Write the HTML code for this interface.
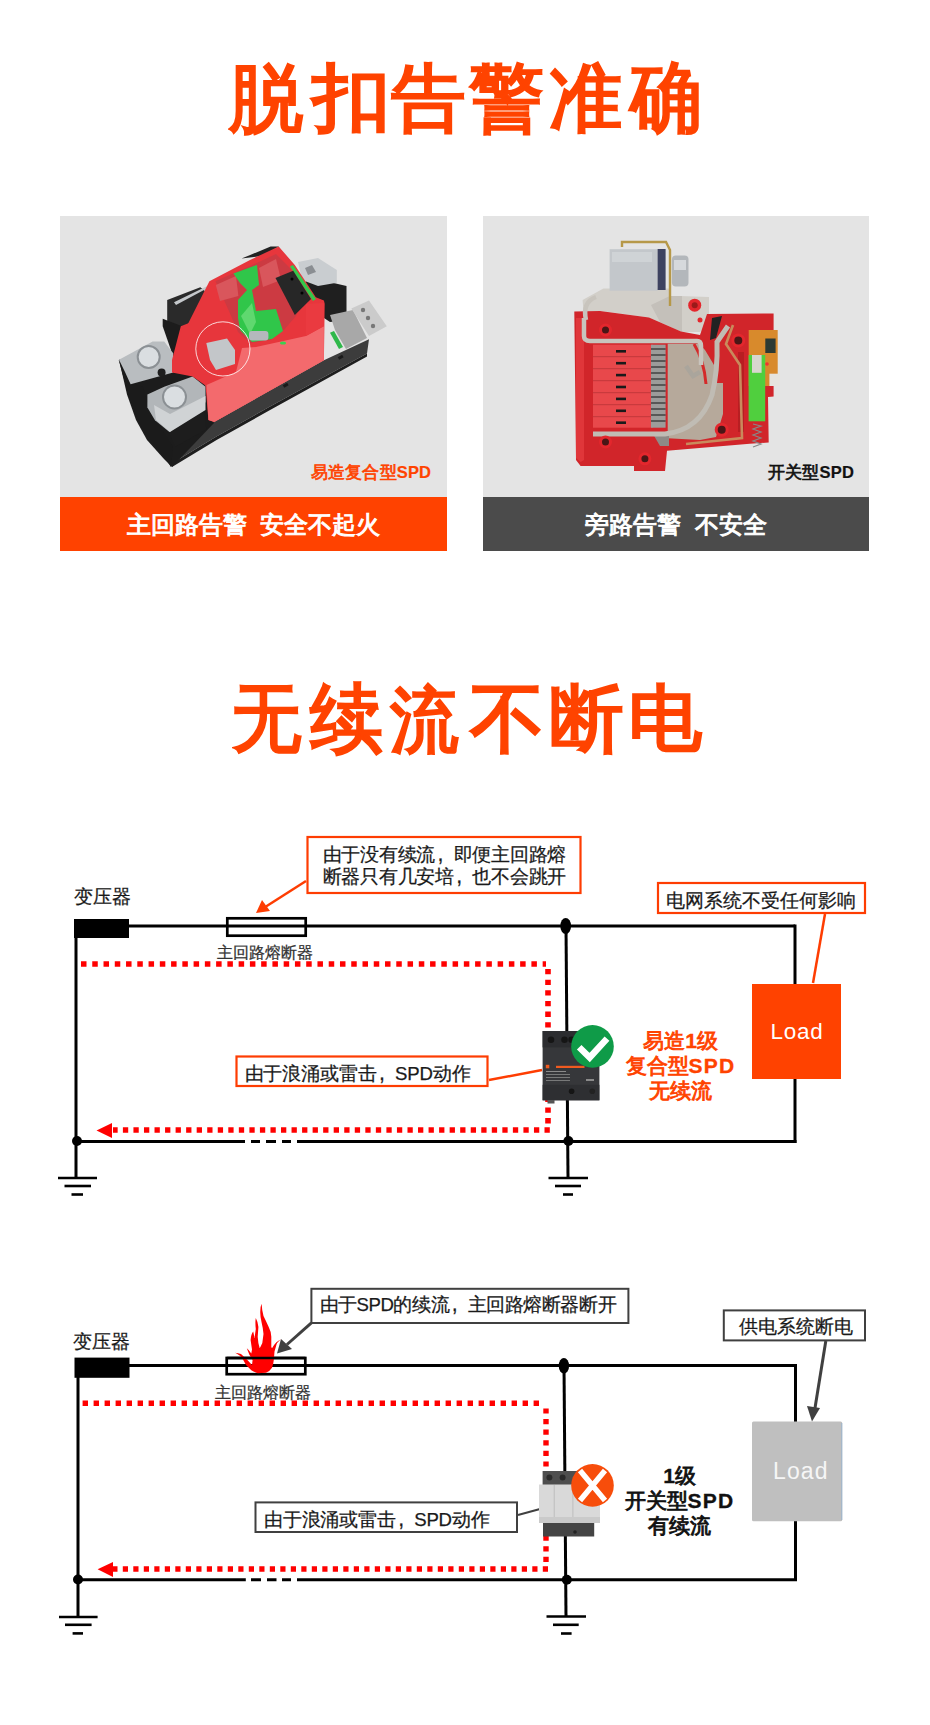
<!DOCTYPE html>
<html><head><meta charset="utf-8">
<style>
*{margin:0;padding:0;box-sizing:border-box}
html,body{width:930px;height:1725px;background:#fff;overflow:hidden}
body{position:relative;font-family:"Liberation Sans",sans-serif}
.a{position:absolute;white-space:nowrap;line-height:1}
.title{font-size:76px;font-weight:normal;color:#ff4300;-webkit-text-stroke:2.8px #ff4300;transform-origin:0 0}
.panel{position:absolute;background:#e4e4e4;overflow:hidden}
.bar{position:absolute;left:0;right:0;bottom:0;height:54px;color:#fff;font-weight:normal;font-size:24px;text-align:center;line-height:56px;-webkit-text-stroke:1px #fff}
.t{font-size:19px;color:#1a1a1a;-webkit-text-stroke:0.25px currentColor}
.cm{display:inline-block;width:0.87em;text-align:left;padding-left:0.12em;font-size:1.15em;line-height:0.8;vertical-align:baseline}
.tb{font-weight:normal;font-size:21px;text-align:center;line-height:25px;-webkit-text-stroke:0.9px currentColor}
.tb b{font-weight:bold;-webkit-text-stroke:0.3px currentColor}
svg{position:absolute;left:0;top:0}
</style></head><body>

<div id="t1"><div class="a title" style="left:228.98px;top:62.0px;transform:scale(0.9779,0.9737)">脱</div><div class="a title" style="left:312.06px;top:61.03px;transform:scale(1.0278,0.9693)">扣</div><div class="a title" style="left:390.7px;top:62.94px;transform:scale(0.9811,0.9442)">告</div><div class="a title" style="left:468.99px;top:59.74px;transform:scale(0.9867,1.0101)">警</div><div class="a title" style="left:549.04px;top:61.72px;transform:scale(0.9595,0.9673)">准</div><div class="a title" style="left:629.89px;top:58.72px;transform:scale(0.9467,1.013)">确</div></div>

<div class="panel" style="left:60px;top:216px;width:387px;height:335px">
  <div class="bar" style="background:#ff4200">主回路告警&nbsp;&nbsp;安全不起火</div>
</div>
<div class="panel" style="left:483px;top:216px;width:386px;height:335px">
  <div class="bar" style="background:#4b4b4b">旁路告警&nbsp;&nbsp;不安全</div>
</div>


<svg width="930" height="600" viewBox="0 0 930 600" id="photos">
<!-- ===== Photo 1 ===== -->
<!-- back blocks -->
<polygon points="241.6,258.6 270.6,246.5 279,246.5 262,256" fill="#222"/>
<polygon points="167.2,300 200.3,287.2 216,299 220,302 185,326 167.2,326" fill="#2a2a2a"/>
<polygon points="174,302.2 207.8,285.7 215.4,299 211,300 204,290 176,305" fill="#c4c8cb"/>
<polygon points="162.7,318.8 182.3,326.3 185.3,356.4 173.2,356.4 162.7,326.3" fill="#1c1c1c"/>
<polygon points="304.5,276.3 346.5,286 346.5,320 330,322 312,310" fill="#1f1f1f"/>
<polygon points="298,262 318,258 336.8,270 336.8,282.8 318,286 302,280" fill="#c9cdd0"/>
<polygon points="305,268 312,265 316,272 308,275" fill="#8a8e92"/>
<!-- base -->
<polygon points="168.5,446.7 214,422 323.9,360.2 369,339.2 367,353.5 270,406.6 216,436.7 171,464" fill="#3c3c3c"/>
<polygon points="171,464 216,436.7 270,406.6 367,353.5 367,356.5 271,409.6 217,439.7 172,467" fill="#1e1e1e"/>
<rect x="283" y="384" width="5" height="3" fill="#1a1a1a" transform="rotate(-30 285 385)"/>
<rect x="338" y="356" width="5" height="3" fill="#1a1a1a" transform="rotate(-30 340 357)"/>
<!-- left terminal block -->
<polygon points="119,359.7 173,350 205.5,385 214,423 172,467 164,459 147,440 136,420 127,394.5" fill="#1c1c1c"/>
<polygon points="118.6,359.8 129,396.8 141,426 166.8,460.4 171,467.3 173,447 161.6,429.5 149.6,408.8 142.7,386.5 132.4,383.9 125,372" fill="#1b1b1b"/>
<polygon points="166.8,429.5 204.6,412.3 206.3,429.5 175.4,446.7" fill="#1d1d1d"/>
<polygon points="119,359.7 152.6,341.6 164.2,341.6 173.2,353.2 173.2,372.6 130.6,384.2 125,372" fill="#b9bdc0"/>
<polygon points="147.4,394.5 164.2,386.8 192.6,376.5 205.5,386.8 205.5,402.3 169.4,432 155,420.3 147.4,407.4" fill="#b2b6b9"/>
<polygon points="154,405 170,414 205.5,396 205.5,410 170,432 156,420" fill="#d0d3d5"/>
<circle cx="148.7" cy="357" r="11" fill="#dadee1" stroke="#8b9094" stroke-width="2"/>
<circle cx="174.5" cy="397" r="11.5" fill="#dadee1" stroke="#8b9094" stroke-width="2"/>
<circle cx="161.6" cy="372.6" r="4" fill="#1e1e1e"/>
<!-- red body -->
<polygon points="188.3,323.3 209.4,281.2 250,260 278.7,246.5 294.8,265 315.8,297.3 323.9,300.5 324.7,303.7 323.9,360.2 214.2,422 208.4,420 205.5,385.5 192.6,376.5 172,372.6 172,360 180.8,326.3" fill="#e7363c"/>
<polygon points="206.5,385 236,372 242,348 256,347 306,336 323.9,326.3 323.9,360.2 214.2,422 208.4,420" fill="#f36a6d"/>
<polygon points="215.4,281.2 250,266 276,254 290,268 306,296 296,316 283,331 270,340 250,343 238,332 232,318 224,300" fill="#cc3a42"/>
<polygon points="215.8,285 236,276 238.4,296 220,301" fill="#d9565c"/>
<polygon points="259,268 276,259 281,280 263,287" fill="#d9565c"/>
<polygon points="306,303.7 324,303 324,326 306,336" fill="#ea3a40"/>
<!-- green -->
<polygon points="233.4,273.6 257,265 259,285 252,290 256,311 276,309 283,331 272,339 252,342 240,330 238,318 238,300 247,290 240,283" fill="#30c64a"/>
<polygon points="241,316 252,303 256,322 250,334" fill="#5fd86f"/>
<polygon points="290,266.6 293,265 316,299 313,301" fill="#33c84c"/>
<polygon points="330,332.8 334,331 343,347 339,349" fill="#2fb84a"/>
<rect x="249" y="331" width="19.4" height="9.6" rx="3" fill="#b4b8bc"/>
<ellipse cx="283" cy="343" rx="3" ry="1.6" fill="#3ad050"/>
<!-- microswitch -->
<polygon points="275.5,278 293.2,270.7 311,299 294.8,315" fill="#272727"/>
<circle cx="292" cy="279" r="1.5" fill="#000"/><circle cx="302" cy="293" r="1.5" fill="#000"/>
<!-- circle & silver -->
<polygon points="206.3,343 227,338.4 235,350 235,364 216,370 210,360" fill="#c3c6c9"/>
<circle cx="222.9" cy="348.9" r="27.1" fill="none" stroke="#fff" stroke-opacity="0.8" stroke-width="1"/>
<!-- right plates -->
<polygon points="330,315 353,310 367,338 346,349 335,330" fill="#a8a8a8"/>
<polygon points="351.3,308.6 369,300.5 386.8,326.3 369,336 360,322" fill="#cbcbcb"/>
<circle cx="363" cy="310" r="2.2" fill="#777"/><circle cx="368" cy="318" r="2.2" fill="#777"/><circle cx="373" cy="326" r="2.2" fill="#777"/>
<!-- ===== Photo 2 ===== -->
<!-- metal bracket & solenoid -->
<polygon points="582.6,300 603.4,288.6 669.8,288.6 669.8,296 680,296 709,297 709,324 700,332 682,332 649,317.5 601,311 597,326 585,330" fill="#d2cfc9"/>
<polygon points="651,305 669.8,296 682,296 682,332 660,322" fill="#c4c0ba"/>
<rect x="609.6" y="249.2" width="48" height="41.5" fill="#c3c7cb"/>
<rect x="612" y="252" width="40" height="10" fill="#cfd3d6"/>
<rect x="657.6" y="249" width="8" height="41" fill="#3d4260"/>
<path d="M622 247V242H666L670 250V306" stroke="#b69848" stroke-width="2.4" fill="none"/>
<rect x="671.9" y="255.4" width="16.6" height="31.2" rx="4" fill="#b3b7bb"/>
<rect x="674" y="260" width="12" height="10" fill="#d6d9dc"/>
<circle cx="694.7" cy="305.2" r="6.5" fill="#e4262c"/><circle cx="694.7" cy="305.2" r="3" fill="#9a1a1a"/>
<circle cx="700" cy="320" r="2.5" fill="#e4262c"/>
<!-- red body -->
<polygon points="574.3,311.5 600,311 649,317.5 681,331.5 700,335 707,314 773.6,313.5 773.6,396.5 768,397 768.7,442.5 749.8,443.7 667,450.8 665,471 634,471 634,466 580.6,466 576,460" fill="#d1252a"/>
<polygon points="576,318 584,318 584,460 580.6,462 576,458" fill="#e0363a"/>
<!-- tan area -->
<polygon points="667.7,343.7 699,343.7 705,350 714,365 716,383 723,383 723,414 716,437 700,440 667.7,438.3" fill="#b6a99b"/>
<polygon points="653,434 669,432 669,446 660,446" fill="#8e8a86"/>
<!-- right inner red details -->
<path d="M694 344Q704 360 706 384" stroke="#d42a2a" stroke-width="3" fill="none"/>
<rect x="738" y="352" width="6" height="80" fill="#b81e22"/>
<polygon points="712,318 722,316 716,338 710,340" fill="#222"/>
<!-- comb -->
<rect x="593" y="344.7" width="60" height="83" fill="#e8484b"/>
<g fill="#c93a3d"><rect x="593" y="356" width="60" height="1.2"/><rect x="593" y="368" width="60" height="1.2"/><rect x="593" y="380" width="60" height="1.2"/><rect x="593" y="392" width="60" height="1.2"/><rect x="593" y="404" width="60" height="1.2"/><rect x="593" y="416" width="60" height="1.2"/></g>
<g fill="#1a1a1a">
<rect x="616" y="350" width="10" height="2.6"/><rect x="616" y="361.9" width="10" height="2.6"/><rect x="616" y="373.8" width="10" height="2.6"/><rect x="616" y="385.7" width="10" height="2.6"/><rect x="616" y="397.6" width="10" height="2.6"/><rect x="616" y="409.5" width="10" height="2.6"/><rect x="616" y="421.4" width="10" height="2.6"/>
</g>
<rect x="651" y="344.7" width="14.6" height="83" fill="#9c9c9a"/>
<g stroke="#333" stroke-width="1.3">
<line x1="651" y1="349" x2="665.6" y2="349"/><line x1="651" y1="355" x2="665.6" y2="355"/><line x1="651" y1="361" x2="665.6" y2="361"/><line x1="651" y1="367" x2="665.6" y2="367"/><line x1="651" y1="373" x2="665.6" y2="373"/><line x1="651" y1="379" x2="665.6" y2="379"/><line x1="651" y1="385" x2="665.6" y2="385"/><line x1="651" y1="391" x2="665.6" y2="391"/><line x1="651" y1="397" x2="665.6" y2="397"/><line x1="651" y1="403" x2="665.6" y2="403"/><line x1="651" y1="409" x2="665.6" y2="409"/><line x1="651" y1="415" x2="665.6" y2="415"/><line x1="651" y1="421" x2="665.6" y2="421"/>
</g>
<!-- silver bars -->
<path d="M586 320Q582 302 596 297M584 318V336Q584 341 590 341H697Q701 341 701 346V365" stroke="#c8c4bd" stroke-width="4.5" fill="none"/>
<path d="M593 434H665Q700 430 712 395Q718 370 717 342L728 326" stroke="#c0bcb4" stroke-width="5" fill="none"/>
<path d="M686 366L693 376L700 372" stroke="#aaa59c" stroke-width="4.5" fill="none"/>
<path d="M733 325L726 344L740 365L742 438L686 444" stroke="#c98a5c" stroke-width="2.6" fill="none"/>

<!-- right components -->
<rect x="748.7" y="330" width="29" height="56" fill="#d88a2c"/>
<rect x="765.3" y="338.5" width="10.3" height="14.5" fill="#2d3a33"/>
<rect x="769.4" y="373.7" width="10.4" height="12.3" fill="#e6e4de"/>
<rect x="748.6" y="355" width="16.6" height="66.3" fill="#50cf3e"/>
<rect x="752" y="355" width="9.6" height="17.8" fill="#d8d6ce"/>
<circle cx="767" cy="364" r="1.8" fill="#e33"/>
<path d="M753 424l8 2l-8 3l8 3l-8 3l8 3l-8 3l8 3l-8 3" stroke="#888" stroke-width="1.2" fill="none"/>
<!-- holes -->
<g fill="#4a1616" stroke="#e3272d" stroke-width="3">
<circle cx="605.5" cy="330" r="5"/><circle cx="605.5" cy="442" r="5"/><circle cx="644.9" cy="458.8" r="5"/><circle cx="738.3" cy="340.5" r="5.5"/><circle cx="721.7" cy="429.8" r="5.5"/>
</g>
</svg>
<div class="a" id="p1t" style="left:311px;top:464px;letter-spacing:0.15px;font-size:16.5px;font-weight:normal;-webkit-text-stroke:0.7px #ff4300;color:#ff4300">易造复合型<b style="-webkit-text-stroke:0.2px #ff4300">SPD</b></div>
<div class="a" id="p2t" style="left:768px;top:464px;letter-spacing:0.2px;font-size:16.5px;font-weight:normal;-webkit-text-stroke:0.7px #111;color:#111">开关型<b style="-webkit-text-stroke:0.2px #111">SPD</b></div>

<div id="t2"><div class="a title" style="left:231.66px;top:681.48px;transform:scale(0.9071,0.98)">无</div><div class="a title" style="left:309.66px;top:681.4px;transform:scale(0.9597,1.004)">续</div><div class="a title" style="left:390.31px;top:684.1px;transform:scale(0.9065,0.9494)">流</div><div class="a title" style="left:470.38px;top:681.41px;transform:scale(0.9753,0.9986)">不</div><div class="a title" style="left:549.45px;top:682.8px;transform:scale(0.9753,0.9539)">断</div><div class="a title" style="left:628.11px;top:682.8px;transform:scale(0.9722,0.9432)">电</div></div>

<svg width="930" height="1725" viewBox="0 0 930 1725">
<!-- ===== Diagram 1 ===== -->
<g stroke="#000" stroke-width="3" fill="none">
  <line x1="129" y1="926" x2="795" y2="926"/>
  <line x1="76" y1="919" x2="76" y2="1177"/>
  <line x1="795" y1="924.5" x2="795" y2="1143"/>
  <line x1="566" y1="926" x2="568" y2="1177"/>
  <path d="M76 1141.5H245M251 1141.5H260M266 1141.5H276M282 1141.5H291M297 1141.5H796.5"/>
  <rect x="227.3" y="918.3" width="78.4" height="17.4" stroke-width="2.7"/>
  <g stroke-width="2.6">
    <line x1="58" y1="1178" x2="97" y2="1178"/><line x1="64.5" y1="1186" x2="91" y2="1186"/><line x1="71.5" y1="1194.5" x2="83" y2="1194.5"/>
    <line x1="548.5" y1="1178" x2="588" y2="1178"/><line x1="555" y1="1186" x2="581" y2="1186"/><line x1="563" y1="1194.5" x2="573" y2="1194.5"/>
  </g>
</g>
<rect x="74" y="919" width="55" height="19" fill="#000"/>
<circle cx="77" cy="1141" r="5" fill="#000"/>
<circle cx="568.4" cy="1141" r="5" fill="#000"/>
<ellipse cx="565.7" cy="926" rx="5.4" ry="8" fill="#000"/>
<rect x="752" y="984" width="89" height="95" fill="#ff4200"/>
<!-- red dotted path -->
<g stroke="#f00" fill="none" stroke-width="5.6">
  <path d="M81 964H546" stroke-dasharray="5.5 5.76"/>
  <path d="M548 969V1127" stroke-dasharray="5.3 5.35"/>
  <path d="M549.8 1130H113" stroke-dasharray="5.3 5.24"/>
</g>
<path d="M96.5 1130.5L112 1123V1138Z" fill="#f00"/>
<!-- callouts -->
<g stroke="#fe3d02" stroke-width="2.2" fill="#fff">
  <rect x="307.5" y="837" width="273" height="56"/>
  <rect x="658" y="883" width="207" height="30"/>
  <rect x="236.5" y="1056.5" width="251" height="29.5"/>
</g>
<g stroke="#fe3d02" stroke-width="2.5" fill="none">
  <line x1="306" y1="881" x2="266" y2="906.5"/>
  <line x1="825" y1="914" x2="813" y2="983"/>
  <line x1="489" y1="1080" x2="542" y2="1070"/>
</g>
<path d="M256 913L262 900L270 911Z" fill="#fe3d02"/>
<!-- SPD 1 -->
<rect x="542.6" y="1031" width="56.8" height="69.3" fill="#36373a"/>
<rect x="542.6" y="1031" width="56.8" height="16.4" fill="#2c2d30"/>
<rect x="542.6" y="1084.8" width="56.8" height="15.5" fill="#2e2f32"/>
<circle cx="551" cy="1039.7" r="3.3" fill="#151515"/><circle cx="564.5" cy="1039.7" r="3.3" fill="#151515"/><circle cx="571.6" cy="1039.7" r="3.3" fill="#151515"/>
<rect x="556" y="1065.8" width="28.5" height="2.2" fill="#f05a20"/>
<rect x="545.8" y="1064.8" width="3.5" height="3.5" fill="#f05a20"/>
<g fill="#8a8a8a"><rect x="546" y="1071" width="20" height="1"/><rect x="546" y="1074" width="24" height="0.8"/><rect x="546" y="1077" width="24" height="0.8"/><rect x="546" y="1080" width="24" height="0.8"/><rect x="586" y="1079" width="8" height="2"/></g>
<circle cx="571.6" cy="1091.3" r="2.8" fill="#151515"/><circle cx="592.3" cy="1091.3" r="2.8" fill="#222"/>
<rect x="547.5" y="1100" width="7" height="3.5" fill="#555"/>
<circle cx="592.5" cy="1046.4" r="21.3" fill="#0f9b48"/>
<path d="M579.2 1047.2L589.7 1057.5L607 1038.6" stroke="#fff" stroke-width="6.5" fill="none"/>

<!-- ===== Diagram 2 ===== -->
<g stroke="#000" stroke-width="3" fill="none">
  <line x1="129" y1="1365.5" x2="796" y2="1365.5"/>
  <line x1="78" y1="1358" x2="78" y2="1617"/>
  <line x1="795.5" y1="1364" x2="795.5" y2="1581"/>
  <line x1="564" y1="1365" x2="566" y2="1617"/>
  <path d="M78 1579.7H245.8M251 1579.7H261M267 1579.7H276.5M282 1579.7H291M297 1579.7H797"/>
  <rect x="226.7" y="1358" width="78.6" height="16.2" stroke-width="2.7"/>
  <g stroke-width="2.6">
    <line x1="59" y1="1617" x2="97.6" y2="1617"/><line x1="65" y1="1624.8" x2="91.6" y2="1624.8"/><line x1="72.6" y1="1633.4" x2="83" y2="1633.4"/>
    <line x1="546.5" y1="1616.5" x2="586" y2="1616.5"/><line x1="553" y1="1624.8" x2="578.7" y2="1624.8"/><line x1="561" y1="1633.5" x2="571.6" y2="1633.5"/>
  </g>
</g>
<rect x="74.5" y="1357.6" width="55" height="20.2" fill="#000"/>
<circle cx="78" cy="1579.5" r="5" fill="#000"/>
<circle cx="566.8" cy="1579.7" r="5" fill="#000"/>
<ellipse cx="563.9" cy="1365.8" rx="5.2" ry="7.7" fill="#000"/>
<rect x="752" y="1421.6" width="90.2" height="99.7" rx="1.5" fill="#bfbfbf"/>
<line x1="841.8" y1="1423" x2="841.8" y2="1520" stroke="#8fb0cf" stroke-width="0.8"/>
<g stroke="#f00" fill="none" stroke-width="5.4">
  <path d="M82.6 1403.2H541" stroke-dasharray="5.4 5.6"/>
  <path d="M546 1408.4V1566" stroke-dasharray="5.2 5.4"/>
  <path d="M548 1569H113" stroke-dasharray="5.2 5.3"/>
</g>
<path d="M97.6 1569.2L113 1562V1577Z" fill="#f00"/>
<!-- flame -->
<path fill="#f00" d="M261.6 1303.8Q262 1311 263.5 1316Q266 1321 268.7 1327Q271.3 1332 271.3 1336.7L271.3 1347L272 1348.3Q276 1341 281.6 1339.3Q277 1342 276.5 1344.5L274.5 1351.5L273.9 1359.3Q273.5 1364 272 1367.7Q270 1371 266 1372.8L257.7 1373.2Q254 1372 251.3 1370.3L246 1365Q243 1359 240.3 1356Q237 1353.5 235.2 1352.8Q238 1353 241 1354L247.4 1360L252 1365L252.6 1360L249.4 1354.8L246.8 1348.3Q249 1350 251.3 1353.5L252 1349.6L250.6 1340Q251 1334 253.2 1331.5Q254 1335 254.5 1338L255.8 1329Q255 1322 255.8 1318Q258 1322 258.4 1327L257.7 1336.7Q258 1343 259.7 1348.3Q261 1346 262.3 1343L263.5 1334Q263 1328 261.6 1322.5Q260 1316 260.3 1311Q260.5 1306 261.6 1303.8Z"/>
<path d="M226.7 1358H305.3" stroke="#000" stroke-width="2.7"/>
<g stroke="#404040" fill="#fff" stroke-width="2">
  <rect x="311.4" y="1288.8" width="317" height="34.2"/>
  <rect x="723.8" y="1310.4" width="141.2" height="30"/>
  <rect x="255.5" y="1502.4" width="261.5" height="29.6"/>
</g>
<g stroke="#404040" stroke-width="3" fill="none">
  <line x1="311.4" y1="1322.8" x2="287" y2="1344.5"/>
  <line x1="825.8" y1="1341" x2="815" y2="1408"/>
</g>
<g stroke="#404040" stroke-width="2" fill="none"><line x1="518" y1="1515" x2="540" y2="1509"/></g>
<path d="M277 1353.4L281 1339L292 1349Z" fill="#404040"/>
<path d="M812 1421.6L807 1406L820 1408Z" fill="#404040"/>
<!-- SPD 2 -->
<rect x="542.6" y="1471" width="56" height="14" fill="#4e4e4e"/>
<circle cx="549.4" cy="1477.4" r="3" fill="#2a2a2a"/>
<circle cx="562.6" cy="1477.4" r="3" fill="#2a2a2a"/>
<rect x="539" y="1484.5" width="61" height="38.5" fill="#d9d9d9"/>
<rect x="539" y="1517" width="61" height="6" fill="#cacaca"/>
<g stroke="#bdbdbd" stroke-width="1"><line x1="554.2" y1="1485" x2="554.2" y2="1517"/><line x1="572.9" y1="1485" x2="572.9" y2="1517"/></g>
<rect x="543" y="1523" width="51.2" height="13.5" fill="#444"/>
<circle cx="575" cy="1532" r="1.8" fill="#222"/>
<circle cx="592.5" cy="1485.4" r="21.3" fill="#f74d0b"/>
<path d="M580 1470.5L605 1500.5M605 1470.5L580 1500.5" stroke="#fff" stroke-width="5.5" fill="none"/>
</svg>

<!-- diagram 1 text -->
<div class="a t" id="d1a" style="left:74px;top:886.5px;font-size:19px">变压器</div>
<div class="a t" id="d1b" style="left:216.5px;top:945px;font-size:16px;color:#333">主回路熔断器</div>
<div class="a t" id="d1c" style="left:322.5px;top:844px;font-size:18.7px;line-height:21.8px;letter-spacing:-0.25px">由于没有续流<span class="cm">,</span>即便主回路熔<br>断器只有几安培<span class="cm">,</span>也不会跳开</div>
<div class="a t" id="d1d" style="left:666px;top:891.5px;font-size:18.7px">电网系统不受任何影响</div>
<div class="a t" id="d1e" style="left:244.5px;top:1064.5px;font-size:18.6px;letter-spacing:-0.15px">由于浪涌或雷击<span class="cm">,</span>SPD动作</div>
<div class="a tb" id="d1f" style="left:610.5px;top:1028px;width:140px;color:#ff4300">易造<b>1</b>级<br>复合型<b style="letter-spacing:1.2px">SPD</b><br>无续流</div>
<div class="a" id="d1g" style="left:770.5px;top:1021px;font-size:22.5px;letter-spacing:0.7px;color:#fff">Load</div>

<!-- diagram 2 text -->
<div class="a t" id="d2a" style="left:72.5px;top:1332px;font-size:19px">变压器</div>
<div class="a t" id="d2b" style="left:215px;top:1385px;font-size:16px;color:#333">主回路熔断器</div>
<div class="a t" id="d2c" style="left:319.5px;top:1296px;font-size:18.6px;letter-spacing:-0.45px">由于SPD的续流<span class="cm">,</span>主回路熔断器断开</div>
<div class="a t" id="d2d" style="left:738.5px;top:1316.5px">供电系统断电</div>
<div class="a t" id="d2e" style="left:264px;top:1511px;font-size:18.6px;letter-spacing:-0.2px">由于浪涌或雷击<span class="cm">,</span>SPD动作</div>
<div class="a tb" id="d2f" style="left:609.5px;top:1463px;width:140px;color:#111"><b>1</b>级<br>开关型<b style="letter-spacing:1.2px">SPD</b><br>有续流</div>
<div class="a" id="d2g" style="left:773px;top:1459.5px;font-size:23px;letter-spacing:1.1px;color:#f6f6f6">Load</div>

</body></html>
